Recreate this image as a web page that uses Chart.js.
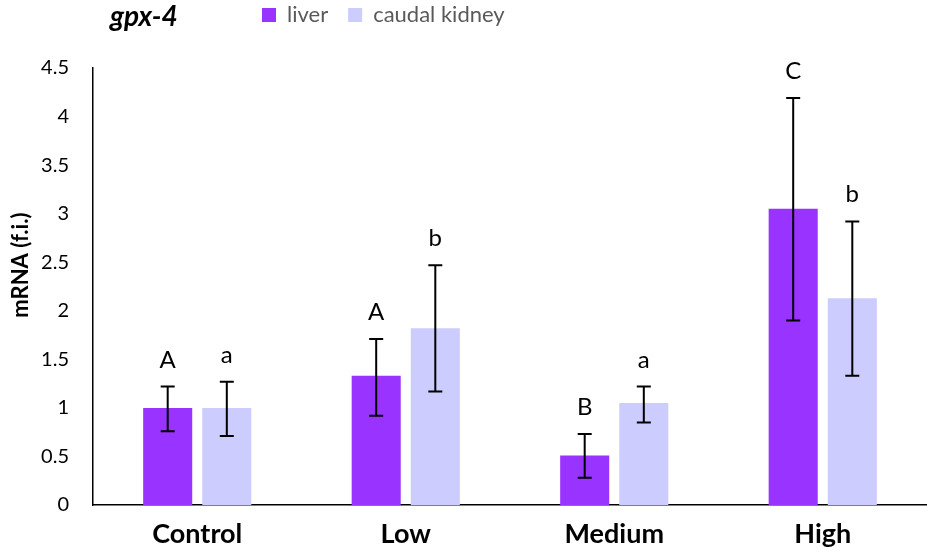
<!DOCTYPE html>
<html>
<head>
<meta charset="utf-8">
<script src="https://cdn.jsdelivr.net/npm/chart.js@4"></script>
<style>
html,body{margin:0;padding:0;background:#fff;}
#wrap{width:927px;height:553px;position:relative;}
</style>
</head>
<body>
<div id="wrap"><canvas id="c"></canvas></div>
<script>
const chartTitle = 'gpx-4';
const categories = ['Control', 'Low', 'Medium', 'High'];
const seriesNames = ['liver', 'caudal kidney'];
const liverValues = [1.00, 1.33, 0.51, 3.05];
const kidneyValues = [1.00, 1.82, 1.05, 2.13];
const liverErrLow = [0.76, 0.92, 0.28, 1.90];
const liverErrHigh = [1.22, 1.71, 0.73, 4.19];
const kidneyErrLow = [0.71, 1.17, 0.85, 1.33];
const kidneyErrHigh = [1.27, 2.47, 1.22, 2.92];
const liverLetters = ['A', 'A', 'B', 'C'];
const kidneyLetters = ['a', 'b', 'a', 'b'];
const yTickLabels = ['0', '0.5', '1', '1.5', '2', '2.5', '3', '3.5', '4', '4.5'];
const yAxisTitle = 'mRNA (f.i.)';

const errLows = [liverErrLow, kidneyErrLow];
const errHighs = [liverErrHigh, kidneyErrHigh];
const letters = [liverLetters, kidneyLetters];

const FONT = 'Lato, "Open Sans", sans-serif';

const errorPlugin = {
  id: 'errorBars',
  afterLayout(chart) {
    const lg = chart.legend;
    if (lg) {
      const pad = lg.options.labels.padding;
      const w = lg.right - lg.left;
      lg.left = 262 - pad;
      lg.right = lg.left + w;
      const h = lg.bottom - lg.top;
      lg.top = -16;
      lg.bottom = lg.top + h;
    }
  },
  afterDatasetsDraw(chart) {
    const ctx = chart.ctx;
    const y = chart.scales.y;
    ctx.save();
    chart.data.datasets.forEach((ds, di) => {
      const meta = chart.getDatasetMeta(di);
      meta.data.forEach((bar, i) => {
        const x = bar.x;
        const yl = y.getPixelForValue(errLows[di][i]);
        const yh = y.getPixelForValue(errHighs[di][i]);
        ctx.strokeStyle = '#000';
        ctx.lineWidth = 2;
        ctx.beginPath();
        ctx.moveTo(x, yl); ctx.lineTo(x, yh);
        ctx.moveTo(x - 7, yl); ctx.lineTo(x + 7, yl);
        ctx.moveTo(x - 7, yh); ctx.lineTo(x + 7, yh);
        ctx.stroke();
        ctx.fillStyle = '#000';
        ctx.font = '24px ' + FONT;
        ctx.textAlign = 'center';
        ctx.textBaseline = 'alphabetic';
        ctx.fillText(letters[di][i], x, yh - 19);
      });
    });
    // title
    ctx.font = 'italic bold 28px ' + FONT;
    ctx.textAlign = 'left';
    ctx.textBaseline = 'middle';
    ctx.fillStyle = '#000';
    ctx.fillText(chartTitle, 110, 17);
    ctx.restore();
  }
};

new Chart(document.getElementById('c'), {
  type: 'bar',
  data: {
    labels: categories,
    datasets: [
      { label: seriesNames[0], data: liverValues, backgroundColor: '#9933FF', borderWidth: 0 },
      { label: seriesNames[1], data: kidneyValues, backgroundColor: '#CCCCFF', borderWidth: 0 }
    ]
  },
  options: {
    responsive: true,
    maintainAspectRatio: false,
    animation: false,
    layout: { padding: { top: 16, right: 0, bottom: 0, left: 0 } },
    datasets: { bar: { categoryPercentage: 0.567, barPercentage: 0.83 } },
    plugins: {
      legend: {
        display: true,
        position: 'top',
        align: 'start',
        labels: {
          boxWidth: 14, boxHeight: 14, padding: 20,
          color: '#595959',
          font: { family: FONT, size: 22 }
        }
      },
      tooltip: { enabled: false },
      title: { display: false }
    },
    scales: {
      x: {
        afterFit(scale) { scale.height = 48; },
        grid: { display: false, drawTicks: false },
        border: { display: true, color: '#000', width: 1.5 },
        ticks: { color: '#000', padding: 13, font: { family: FONT, size: 27, weight: 'bold' } }
      },
      y: {
        min: 0, max: 4.5,
        afterFit(scale) { scale.width = 93; },
        grid: { display: false, drawTicks: false },
        border: { display: true, color: '#000', width: 1.5 },
        ticks: {
          stepSize: 0.5, color: '#000', padding: 24,
          font: { family: FONT, size: 20 },
          callback: (v, i) => yTickLabels[i]
        },
        title: {
          display: true, text: '        ' + yAxisTitle, color: '#000',
          padding: { top: 8, bottom: 0 },
          font: { family: FONT, size: 22, weight: 'bold' }
        }
      }
    }
  },
  plugins: [errorPlugin]
});
</script>
</body>
</html>
